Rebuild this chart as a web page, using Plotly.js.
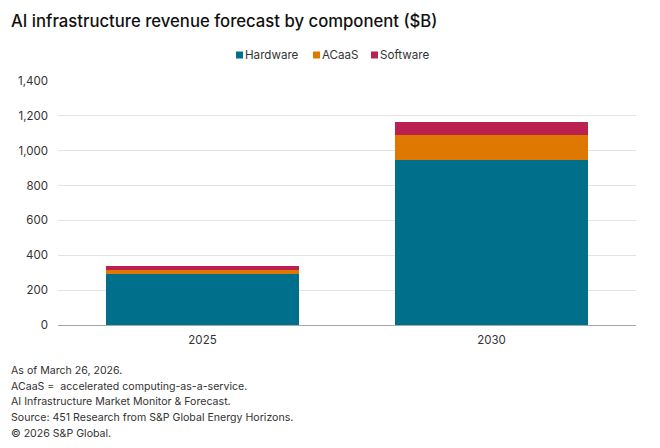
<!DOCTYPE html>
<html><head><meta charset="utf-8">
<script src="https://cdn.plot.ly/plotly-3.0.1.min.js"></script>
<style>html,body{margin:0;padding:0;background:#fff}</style></head>
<body><div id="chart" style="width:660px;height:448px"></div>
<script>
const categories = ["2025", "2030"];
const seriesNames = ["Hardware", "ACaaS", "Software"];
const seriesColors = ["#006F8B", "#DE7800", "#BA2050"];
const hardware = [294, 945];
const acaas = [22, 144];
const software = [21, 73];
const yTicks = [0, 200, 400, 600, 800, 1000, 1200, 1400];
const yTickLabels = ["0", "200", "400", "600", "800", "1,000", "1,200", "1,400"];
const titleText = "AI infrastructure revenue forecast by component ($B)";
const footnotes = [
  "As of March 26, 2026.",
  "ACaaS =  accelerated computing-as-a-service.",
  "AI Infrastructure Market Monitor & Forecast.",
  "Source: 451 Research from S&P Global Energy Horizons.",
  "© 2026 S&P Global."
];
const legendSwatchX = [236, 313, 371];
const FONT = "Inter, Roboto, sans-serif";
const W = 660, H = 448;
const px = x => x / W, py = y => 1 - y / H;
const seriesValues = [hardware, acaas, software];
const traces = seriesNames.map((name, i) => ({type: "bar", name, x: categories, y: seriesValues[i], marker: {color: seriesColors[i], line: {width: 0}}}));
const footAnn = footnotes.map((t, i) => ({text: t, xref: "paper", yref: "paper", x: -47/578, y: -(370.7 + i*15.6 - 325)/244, xanchor: "left", yanchor: "middle", showarrow: false, xshift: -2, font: {size: 10.6, color: "#333"}}));
const margin = {l: 58, r: 24, t: 81, b: 123};
const pw = W - margin.l - margin.r, ph = H - margin.t - margin.b;
const legendAnn = seriesNames.map((t, i) => ({text: t, xref: "paper", yref: "paper", x: (legendSwatchX[i] + 6 - margin.l) / pw, y: (H - margin.b - 55) / ph, xanchor: "left", yanchor: "middle", showarrow: false, xshift: 1, font: {size: 11.6, color: "#333"}}));
const legendShapes = seriesNames.map((t, i) => ({type: "rect", xref: "paper", yref: "paper", x0: (legendSwatchX[i] - margin.l) / pw, x1: (legendSwatchX[i] + 7 - margin.l) / pw, y0: (H - margin.b - 58.5) / ph, y1: (H - margin.b - 51.5) / ph, fillcolor: seriesColors[i], line: {width: 0}}));
const layout = {
  width: W, height: H, barmode: "stack", bargap: 0.333,
  paper_bgcolor: "#fff", plot_bgcolor: "#fff",
  font: {family: FONT, size: 12, color: "#333"},
  margin,
  title: {text: titleText, x: px(11), xanchor: "left", y: py(21), yanchor: "middle", font: {family: FONT, size: 16.7, color: "#111", weight: 500}},
  showlegend: false,
  xaxis: {type: "category", tickfont: {size: 11.5, color: "#333"}, ticks: "", ticklabelstandoff: 4, showgrid: false, showline: true, linecolor: "#a6a6a6", linewidth: 1, zeroline: false},
  yaxis: {range: [0, 1400], tickvals: yTicks, ticktext: yTickLabels, tickfont: {size: 11.5, color: "#333"}, ticklabelstandoff: 9, gridcolor: "#e3e3e3", gridwidth: 1, zeroline: false, ticks: "", showline: false},
  shapes: legendShapes,
  annotations: footAnn.concat(legendAnn)
};
Plotly.newPlot("chart", traces, layout, {displayModeBar: false, staticPlot: true});
</script></body></html>
